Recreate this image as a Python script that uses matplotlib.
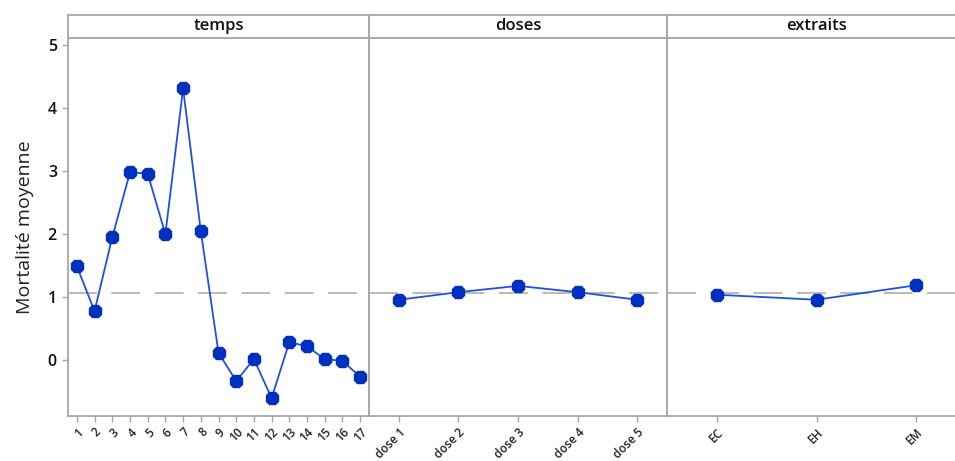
import matplotlib
matplotlib.use("Agg")
import matplotlib.pyplot as plt

plt.rcParams['font.family'] = ['Open Sans', 'DejaVu Sans']

# mean mortality by factor level
temps_labels = [str(i) for i in range(1, 18)]
temps_values = [1.49, 0.78, 1.95, 2.98, 2.96, 2.00, 4.31, 2.05, 0.12,
                -0.33, 0.02, -0.60, 0.29, 0.22, 0.02, -0.01, -0.26]
doses_labels = ['dose 1', 'dose 2', 'dose 3', 'dose 4', 'dose 5']
doses_values = [0.96, 1.08, 1.18, 1.08, 0.96]
extraits_labels = ['EC', 'EH', 'EM']
extraits_values = [1.04, 0.96, 1.19]
grand_mean = 1.06

panels = [('temps', temps_labels, temps_values),
          ('doses', doses_labels, doses_values),
          ('extraits', extraits_labels, extraits_values)]

W, H = 955, 461
fig = plt.figure(figsize=(W / 100, H / 100), dpi=100)

# panel edges in pixels (last panel runs past the right edge)
edges = [68, 369, 667, 966]
plot_top, plot_bot, strip_top = 38, 416, 15
frame = '#a6a6a6'
line_col = '#2050e0'
mark_col = '#0030c0'

for i, (name, labels, vals) in enumerate(panels):
    x0, x1 = edges[i], edges[i + 1]
    ax = fig.add_axes([x0 / W, (H - plot_bot) / H, (x1 - x0) / W, (plot_bot - plot_top) / H])
    xs = list(range(1, len(vals) + 1))
    ax.axhline(grand_mean, color='#b4b4b4', lw=1.3, dashes=(16, 8), zorder=1)
    ax.plot(xs, vals, color=line_col, lw=1.3, zorder=2)
    ax.plot(xs, vals, ls='none', marker='8', ms=9.5, color=mark_col, zorder=3)
    ax.set_xlim(0.5, len(vals) + 0.5)
    ax.set_ylim(-0.883, 5.11)
    ax.set_xticks(xs)
    ax.set_xticklabels(labels, rotation=45, ha='right', rotation_mode='anchor',
                       fontsize=8.5, fontweight='semibold', color='#222222')
    for s in ax.spines.values():
        s.set_color(frame)
        s.set_linewidth(1.3)
    ax.tick_params(axis='x', length=4, color=frame, width=1, pad=3)
    if i == 0:
        ax.set_yticks(range(0, 6))
        ax.tick_params(axis='y', length=4, color=frame, width=1, labelsize=11.5,
                       labelcolor='#111111', pad=4)
        for t in ax.get_yticklabels():
            t.set_fontweight('semibold')
        ax.set_ylabel('Mortalité moyenne', fontsize=14, color='#222222', labelpad=10)
    else:
        ax.set_yticks([])

    # strip header above each panel
    sx = fig.add_axes([x0 / W, (H - plot_top) / H, (x1 - x0) / W, (plot_top - strip_top) / H])
    sx.set_xticks([])
    sx.set_yticks([])
    for s in sx.spines.values():
        s.set_color(frame)
        s.set_linewidth(1.3)
    sx.text(0.5, 0.5, name, ha='center', va='center', fontsize=12, fontweight='semibold',
            color='#111111', transform=sx.transAxes)

fig.savefig('out.png', dpi=100)
